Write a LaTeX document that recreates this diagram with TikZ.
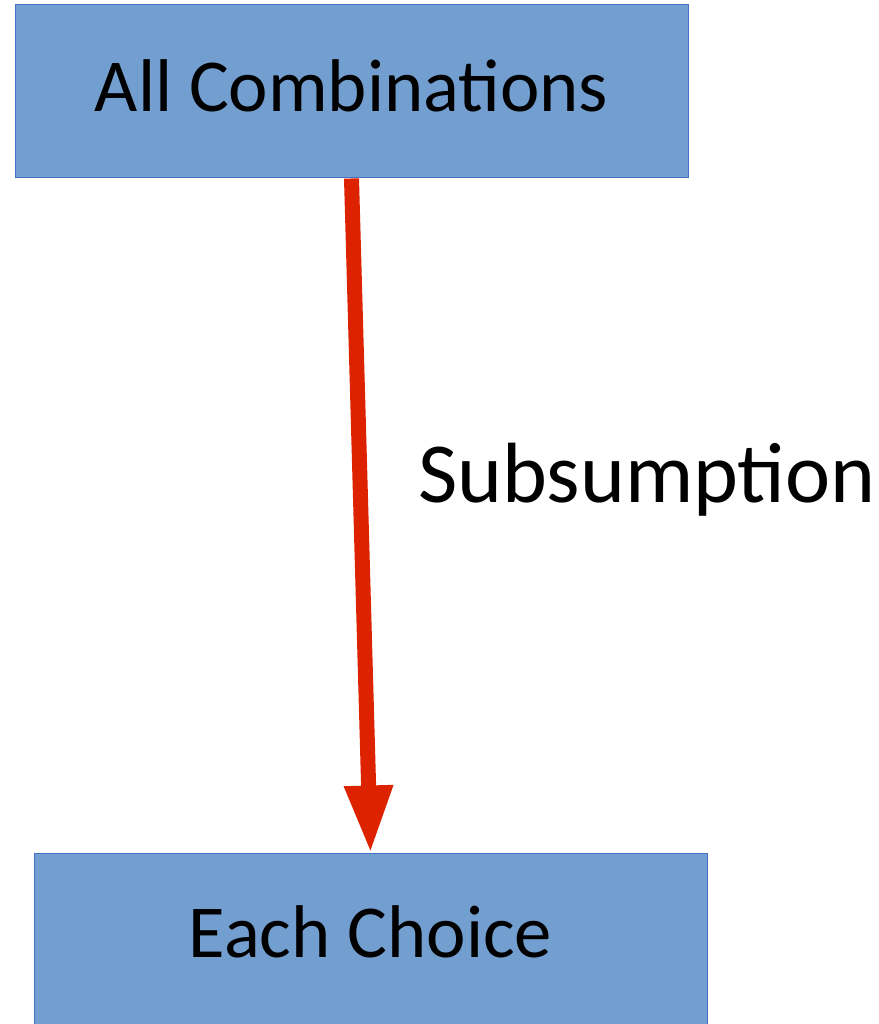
\documentclass[tikz,border=0pt]{standalone}
\usepackage{fontspec}
\setmainfont{Carlito}
\usetikzlibrary{arrows.meta}
\definecolor{boxfill}{RGB}{114,159,207}
\definecolor{boxline}{RGB}{68,114,196}
\definecolor{arrowred}{RGB}{221,34,0}
\tikzset{
  blockbox/.style={draw=boxline, line width=1pt, fill=boxfill, inner sep=0pt,
    minimum width=673pt},
  box text/.style={font=\fontsize{74.7}{90}\selectfont, inner sep=0pt, anchor=base},
  label text/.style={font=\fontsize{85.5}{102}\selectfont, inner sep=0pt, anchor=base west},
  bigarrow/.style={draw=arrowred, line width=15pt,
    -{Triangle[width=45pt,length=68pt]}},
}
\begin{document}
\begin{tikzpicture}[x=1pt,y=1pt]
  \useasboundingbox (0,0) rectangle (878,1024);
  \clip (0,0) rectangle (878,1024);
  % the two blocks
  \node[blockbox, minimum height=173pt] (all) at (351.5,932.5) {};
  \node[blockbox, minimum height=340pt] (each) at (370.5,0) {};
  % their captions
  \node[box text] (alltext) at (351.5,912) {All Combinations};
  \node[box text] (eachtext) at (370.5,66) {Each Choice};
  % the connector and its label
  \draw[bigarrow] (all.south) -- (each.north);
  \node[label text] (sub) at (418,521) {Subsumption};
\end{tikzpicture}
\end{document}
